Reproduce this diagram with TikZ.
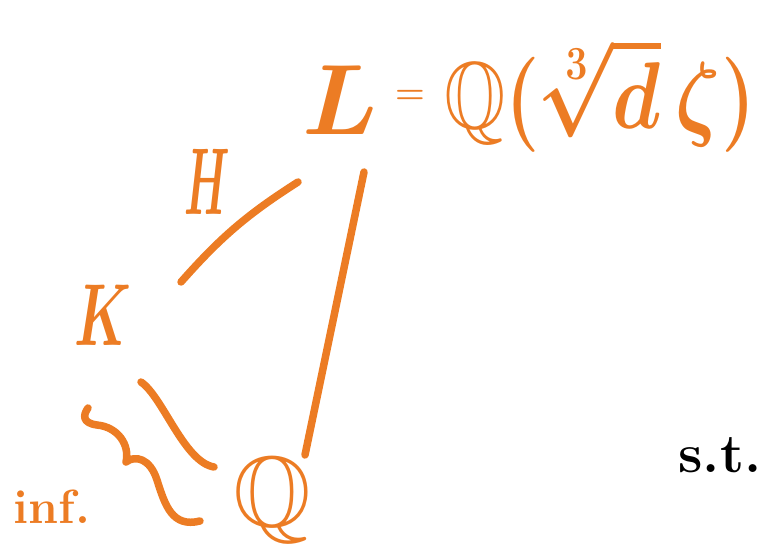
\RequirePackage{fix-cm}
\documentclass[tikz,border=0pt]{standalone}
\usepackage{amssymb}
\usepackage{graphicx}
\definecolor{hand}{RGB}{236,124,36}
\tikzset{
  edge/.style={draw=hand,line width=7.5pt,line cap=round,line join=round},
  lbl/.style={text=hand,inner sep=0pt,outer sep=0pt},
}
\begin{document}
\begin{tikzpicture}[x=1pt,y=-1pt]
\useasboundingbox (0,0) rectangle (766,544);
% field labels
\node[lbl,font=\fontsize{100}{100}\selectfont\boldmath] (L) at (340,100) {$L$};
\node[lbl,font=\fontsize{34}{34}\selectfont\boldmath] (eq) at (410,97) {$=$};
\node[lbl,font=\fontsize{95}{95}\selectfont\boldmath] (F) at (600,95) {\scalebox{0.83}[1]{$\mathbb{Q}(\sqrt[3]{d}\,\zeta)$}};
\node[lbl,font=\fontsize{95}{95}\selectfont\boldmath] (H) at (207,182) {\scalebox{0.45}[1]{$H$}};
\node[lbl,font=\fontsize{88}{88}\selectfont\boldmath] (K) at (103,315) {\scalebox{0.62}[1]{$K$}};
\node[lbl,font=\fontsize{100}{100}\selectfont] (Q) at (272,500) {$\mathbb{Q}$};
\node[lbl,font=\fontsize{48}{48}\selectfont\bfseries] (inf) at (52,507) {inf.};
\node[inner sep=0pt,font=\fontsize{55}{55}\selectfont\bfseries] (st) at (720,455) {s.t.};
% connectors
\draw[edge] ([shift={(78,-33)}]K.center) to[bend left=8] ([shift={(-42,82)}]L.center);
\draw[edge] ([shift={(24,72)}]L.center) -- ([shift={(33,-45)}]Q.center);
\draw[edge] ([shift={(38,67)}]K.center) .. controls ++(22,15) and ++(-30,-5) .. ([shift={(-58,-33)}]Q.center);
% squiggle beside "inf."
\coordinate (s0) at (88,408);
\coordinate (s2) at (200,521);
\draw[edge] (s0) .. controls (83,415) and (82,423) .. (97,425)
  .. controls (118,427) and (130,445) .. (126,462)
  .. controls (135,455) and (150,458) .. (157,480)
  .. controls (165,505) and (172,528) .. (s2);
\end{tikzpicture}
\end{document}
